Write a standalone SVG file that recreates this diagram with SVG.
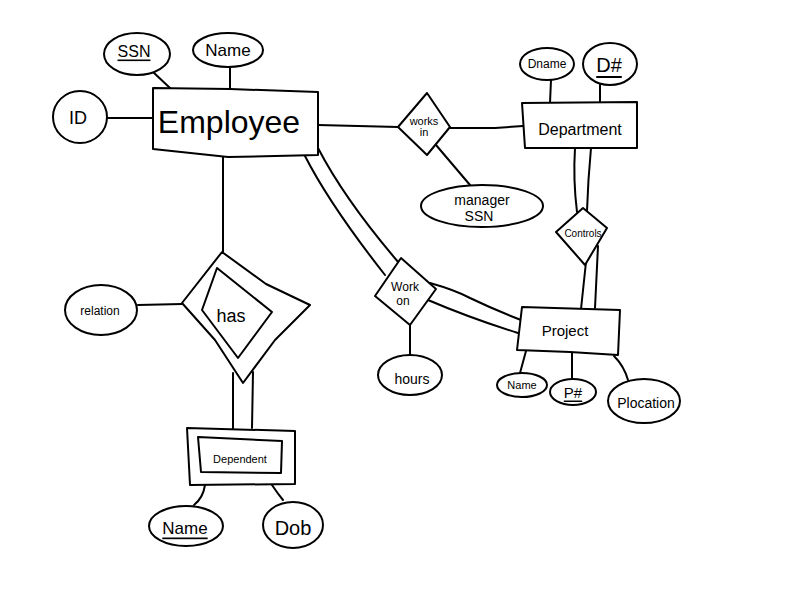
<svg xmlns="http://www.w3.org/2000/svg" width="796" height="590" viewBox="0 0 796 590">
  <style>
    .s { fill: none; stroke: #000; stroke-width: 2; stroke-linejoin: round; stroke-linecap: round; }
    .f { fill: #fff; stroke: #000; stroke-width: 2; stroke-linejoin: round; }
    text { font-family: "Liberation Sans", "DejaVu Sans", sans-serif; fill: #000; text-anchor: middle; dominant-baseline: central; }
  </style>
  <rect width="796" height="590" fill="#fff"/>

  <!-- connectors -->
  <g id="connectors" class="s">
    <!-- Employee attributes -->
    <line x1="153" y1="72" x2="170" y2="88"/>
    <line x1="230" y1="67" x2="230" y2="88"/>
    <line x1="107" y1="118" x2="153" y2="118"/>
    <!-- Employee - works in - Department -->
    <line x1="318" y1="125" x2="398" y2="127"/>
    <path d="M450 128 L495 128 L523 126"/>
    <line x1="436" y1="145" x2="470" y2="185"/>
    <!-- Department attributes -->
    <line x1="551" y1="80" x2="550" y2="103"/>
    <line x1="600" y1="85" x2="600" y2="103"/>
    <!-- Department = controls = Project -->
    <path d="M575 148 Q573 180 577 212"/>
    <path d="M591 148 Q588 180 587 211"/>
    <path d="M586 262 L581 309"/>
    <path d="M598 246 L595 308"/>
    <!-- Employee = work on = Project -->
    <path d="M305 156 Q330 205 385 275"/>
    <path d="M318 148 Q345 200 399 263"/>
    <path d="M430 283 Q455 290 470 298 Q495 310 521 320"/>
    <path d="M428 300 Q470 318 518 333"/>
    <line x1="410" y1="325" x2="410" y2="355"/>
    <!-- Project attributes -->
    <line x1="526" y1="351" x2="520" y2="373"/>
    <line x1="572" y1="352" x2="572" y2="380"/>
    <path d="M614 356 Q624 366 628 380"/>
    <!-- Employee - has = Dependent -->
    <line x1="223" y1="157" x2="223" y2="252"/>
    <line x1="138" y1="305" x2="182" y2="304"/>
    <line x1="233" y1="373" x2="233" y2="430"/>
    <line x1="253" y1="372" x2="252" y2="428"/>
    <!-- Dependent attributes -->
    <path d="M205 485 Q203 498 194 505"/>
    <path d="M272 485 Q278 494 283 500"/>
  </g>

  <!-- Employee entity -->
  <g id="employee">
    <path class="f" d="M153 88 L230 89 L318 92 L318 155 L228 157 L153 149 Z"/>
    <text x="229" y="122" font-size="32">Employee</text>
  </g>
  <g id="employee-ssn">
    <ellipse class="f" cx="137" cy="54" rx="33" ry="21"/>
    <text x="134" y="51" font-size="16" text-decoration="underline">SSN</text>
  </g>
  <g id="employee-name">
    <ellipse class="f" cx="228" cy="50" rx="35" ry="17"/>
    <text x="228" y="50" font-size="17">Name</text>
  </g>
  <g id="employee-id">
    <ellipse class="f" cx="80" cy="117" rx="27" ry="26"/>
    <text x="78" y="118" font-size="18">ID</text>
  </g>

  <!-- works in relationship -->
  <g id="works-in">
    <path class="f" d="M398 127 L427 93 L450 127 L427 155 Z"/>
    <text x="424" y="121" font-size="11">works</text>
    <text x="424" y="132" font-size="11">in</text>
  </g>
  <g id="manager-ssn">
    <ellipse class="f" cx="482" cy="206" rx="61" ry="21"/>
    <text x="482" y="200" font-size="14">manager</text>
    <text x="479" y="216" font-size="14">SSN</text>
  </g>

  <!-- Department entity -->
  <g id="department">
    <path class="f" d="M522 103 L637 102 L637 148 L525 148 Z"/>
    <text x="580" y="129" font-size="16">Department</text>
  </g>
  <g id="department-dname">
    <ellipse class="f" cx="547" cy="64" rx="27" ry="16"/>
    <text x="547" y="64" font-size="12">Dname</text>
  </g>
  <g id="department-dnum">
    <ellipse class="f" cx="610" cy="64" rx="27" ry="21"/>
    <text x="609" y="65" font-size="20" text-decoration="underline">D#</text>
  </g>

  <!-- controls relationship -->
  <g id="controls">
    <path class="f" d="M556 232 L583 208 L607 228 L585 265 Z"/>
    <text x="583" y="233" font-size="10">Controls</text>
  </g>

  <!-- work on relationship -->
  <g id="work-on">
    <path class="f" d="M375 296 L401 258 L436 289 L410 325 Z"/>
    <text x="405" y="287" font-size="12">Work</text>
    <text x="403" y="301" font-size="12">on</text>
  </g>
  <g id="work-on-hours">
    <ellipse class="f" cx="410" cy="375" rx="32" ry="20"/>
    <text x="412" y="379" font-size="14">hours</text>
  </g>

  <!-- Project entity -->
  <g id="project">
    <path class="f" d="M522 307 L620 310 L618 355 L570 352 L517 350 Z"/>
    <text x="565" y="330" font-size="15">Project</text>
  </g>
  <g id="project-name">
    <ellipse class="f" cx="522" cy="385" rx="25" ry="12"/>
    <text x="522" y="385" font-size="11">Name</text>
  </g>
  <g id="project-pnum">
    <ellipse class="f" cx="573" cy="392" rx="23" ry="13"/>
    <text x="573" y="392" font-size="15" text-decoration="underline">P#</text>
  </g>
  <g id="project-plocation">
    <ellipse class="f" cx="644" cy="401" rx="36" ry="22"/>
    <text x="646" y="403" font-size="14">Plocation</text>
  </g>

  <!-- has (identifying relationship) -->
  <g id="has">
    <path class="f" d="M182 303 L222 252 L266 284 L310 305 L275 340 L243 383 L215 340 Z"/>
    <path class="f" d="M202 310 L217 268 L272 312 L238 358 Z"/>
    <text x="231" y="316" font-size="18">has</text>
  </g>
  <g id="has-relation">
    <ellipse class="f" cx="101" cy="310" rx="36" ry="25"/>
    <text x="100" y="311" font-size="12">relation</text>
  </g>

  <!-- Dependent (weak entity) -->
  <g id="dependent">
    <path class="f" d="M187 428 L295 431 L295 484 L190 485 Z"/>
    <path class="f" d="M198 437 L282 441 L281 473 L201 472 Z"/>
    <text x="240" y="459" font-size="11">Dependent</text>
  </g>
  <g id="dependent-name">
    <ellipse class="f" cx="186" cy="526" rx="37" ry="20"/>
    <text x="185" y="528" font-size="17" text-decoration="underline">Name</text>
  </g>
  <g id="dependent-dob">
    <ellipse class="f" cx="293" cy="525" rx="30" ry="23"/>
    <text x="293" y="528" font-size="20">Dob</text>
  </g>
</svg>
